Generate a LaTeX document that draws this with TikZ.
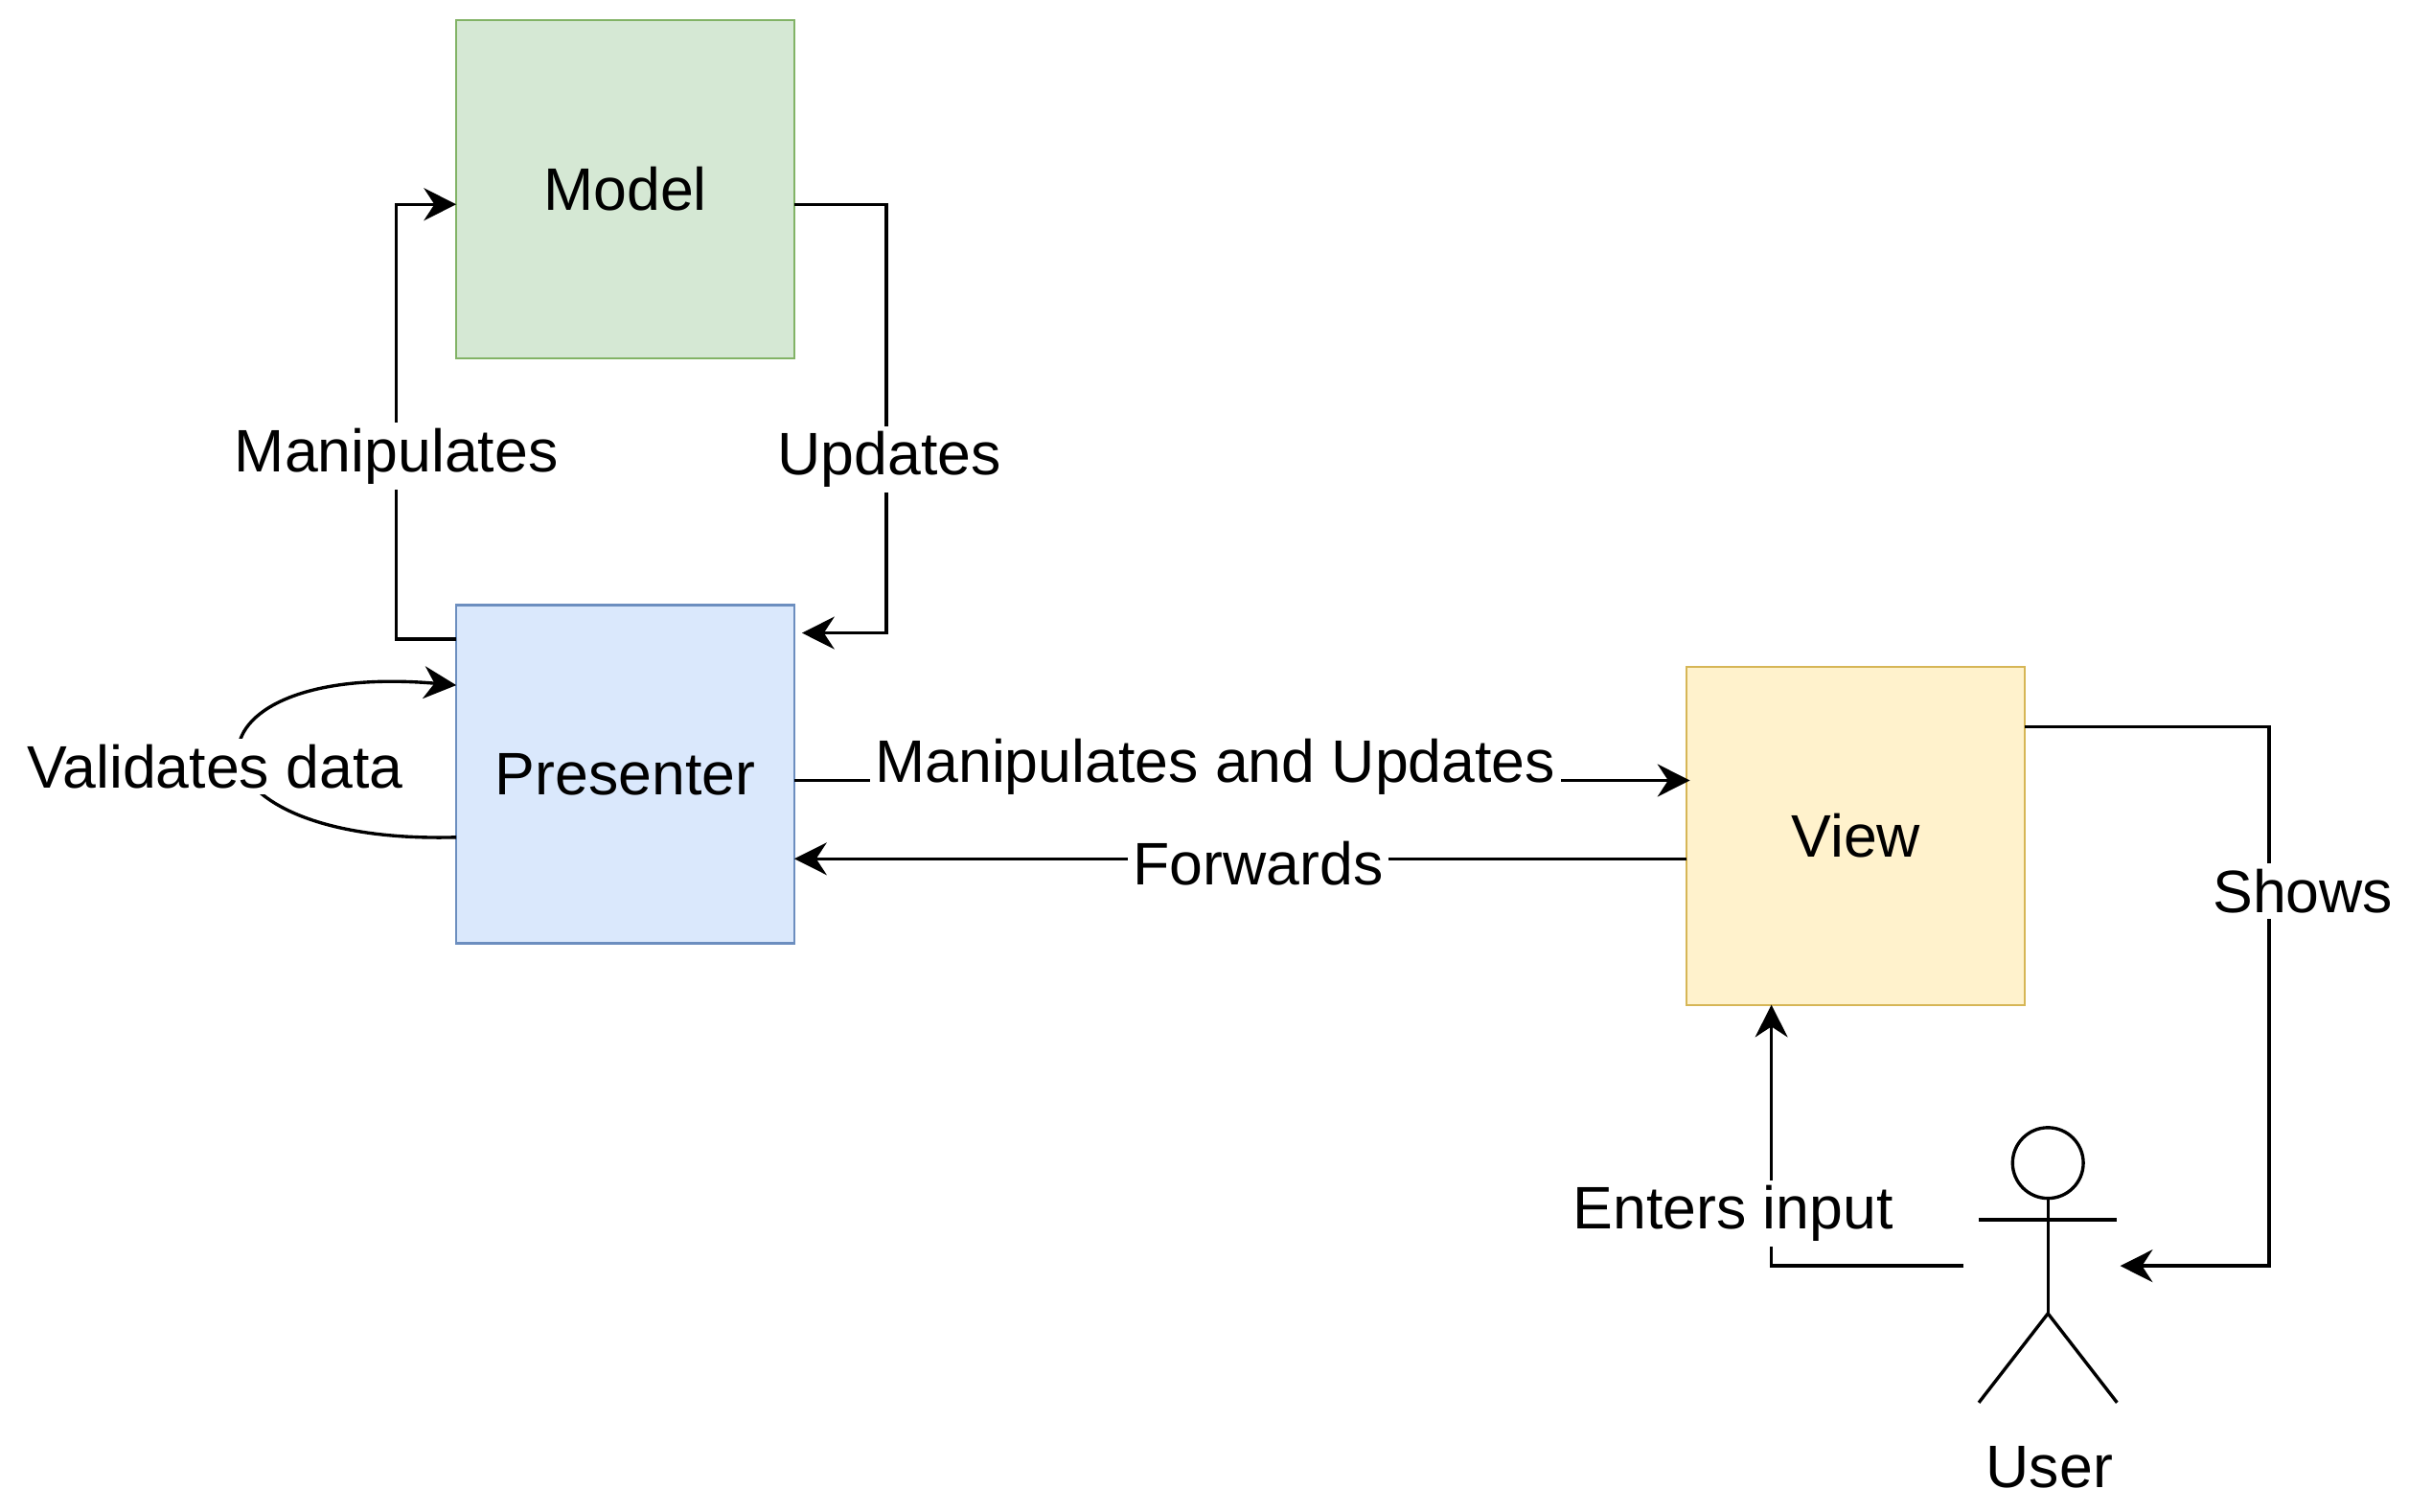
\documentclass[tikz,border=0pt]{standalone}
\usepackage{fontspec}
\setmainfont{Liberation Sans}
\usetikzlibrary{arrows.meta}
\definecolor{mfill}{HTML}{D5E8D4}\definecolor{mdraw}{HTML}{82B366}
\definecolor{pfill}{HTML}{DAE8FC}\definecolor{pdraw}{HTML}{6C8EBF}
\definecolor{vfill}{HTML}{FFF2CC}\definecolor{vdraw}{HTML}{D6B656}
\begin{document}
\begin{tikzpicture}[x=0.01cm,y=-0.01cm,font=\fontsize{11.1}{13}\selectfont,
box/.style={shape=rectangle,minimum size=2.2cm,inner sep=0pt},
lbl/.style={fill=white,inner sep=1pt},
flow/.style={-{Stealth[length=6pt,width=6pt]},semithick}]
\useasboundingbox (0,0) rectangle (1568,984);

\node[box,fill=mfill,draw=mdraw] (M) at (407,123) {Model};
\node[box,fill=pfill,draw=pdraw] (P) at (407,504) {Presenter};
\node[box,fill=vfill,draw=vdraw] (V) at (1208,544) {View};

% presenter <-> model
\coordinate (pm1) at (297,416);
\coordinate (pm2) at (297,133);
\draw[flow] (pm1) -- (258,416) -- (258,133) -- (pm2);
\node[lbl] (manip) at (258,297) {Manipulates};
\coordinate (mp1) at (517,133);
\coordinate (mp2) at (522,412);
\draw[flow] (mp1) -- (577,133) -- (577,412) -- (mp2);
\node[lbl] (upd) at (579,299) {Updates};

% self loop
\coordinate (va) at (297,545);
\coordinate (vb) at (297,446);
\draw[flow] (va) .. controls (110,550) and (110,430) .. (vb);
\node[lbl] (valid) at (140,499) {Validates data};

% presenter <-> view
\coordinate (pv1) at (517,508);
\coordinate (pv2) at (1100,508);
\draw[flow] (pv1) -- (pv2);
\node[lbl] (mu) at (791,499) {Manipulates and Updates};
\coordinate (vp1) at (1098,559);
\coordinate (vp2) at (517,559);
\draw[flow] (vp1) -- (vp2);
\node[lbl] (fwd) at (819,562) {Forwards};

% user
\node[circle,draw,semithick,minimum size=0.46cm,inner sep=0pt] (head) at (1333,757) {};
\coordinate (hip) at (1333,855);
\draw[semithick] (head.south) -- (hip);
\draw[semithick] (1288,794) -- (1378,794);
\draw[semithick] (1288,913) -- (hip) -- (1378,913);
\node (user) at (1334,955) {User};

\coordinate (vs1) at (1318,473);
\coordinate (vs2) at (1380,824);
\draw[flow] (vs1) -- (1477,473) -- (1477,824) -- (vs2);
\node[lbl] (shows) at (1499,580) {Shows};
\coordinate (ui1) at (1278,824);
\coordinate (ui2) at (1153,654);
\draw[flow] (ui1) -- (1153,824) -- (ui2);
\node[lbl] (enter) at (1128,790) {Enters input};
\end{tikzpicture}
\end{document}
